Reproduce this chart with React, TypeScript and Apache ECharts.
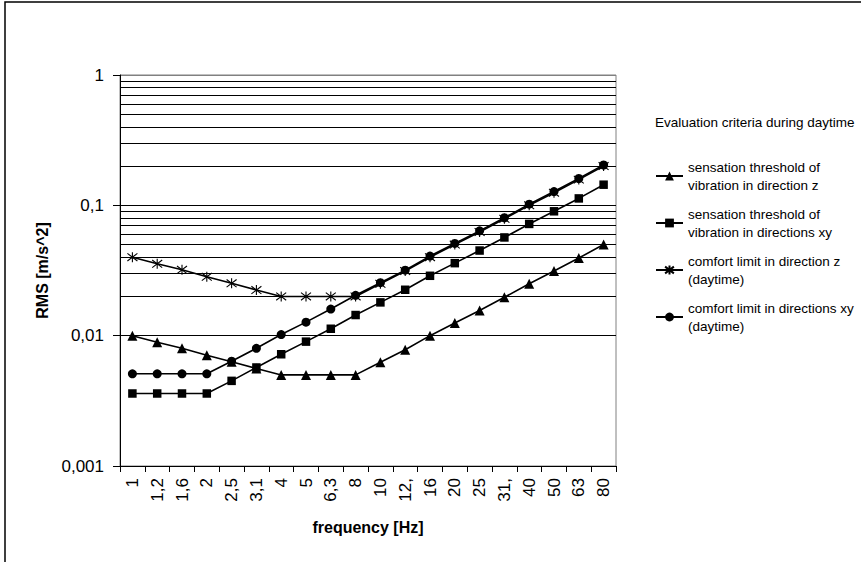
import React, { useEffect, useRef } from 'react';
import * as echarts from 'echarts';

const frequencies = ['1', '1,25', '1,6', '2', '2,5', '3,15', '4', '5', '6,3', '8', '10', '12,5', '16', '20', '25', '31,5', '40', '50', '63', '80'];
const sensationZ = [0.01, 0.0089, 0.008, 0.00707, 0.0063, 0.0056, 0.005, 0.005, 0.005, 0.005, 0.00625, 0.0078, 0.01, 0.0125, 0.0156, 0.0197, 0.025, 0.0313, 0.0394, 0.05];
const sensationXY = [0.0036, 0.0036, 0.0036, 0.0036, 0.0045, 0.0057, 0.0072, 0.009, 0.0113, 0.0144, 0.018, 0.0225, 0.0288, 0.036, 0.045, 0.0567, 0.072, 0.09, 0.113, 0.144];
const comfortZ = [0.04, 0.0356, 0.032, 0.0283, 0.0252, 0.0224, 0.02, 0.02, 0.02, 0.02, 0.025, 0.0313, 0.04, 0.05, 0.0625, 0.0788, 0.1, 0.125, 0.1575, 0.2];
const comfortXY = [0.0051, 0.0051, 0.0051, 0.0051, 0.00637, 0.008, 0.0102, 0.0127, 0.016, 0.0204, 0.0255, 0.0318, 0.0408, 0.051, 0.0637, 0.0803, 0.102, 0.1275, 0.1606, 0.204];
const minorGridValues = [
  0.002, 0.003, 0.004, 0.005, 0.006, 0.007, 0.008, 0.009,
  0.02, 0.03, 0.04, 0.05, 0.06, 0.07, 0.08, 0.09,
  0.2, 0.3, 0.4, 0.5, 0.6, 0.7, 0.8, 0.9,
];
const seriesNames = [
  'sensation threshold of vibration in direction z',
  'sensation threshold of vibration in directions xy',
  'comfort limit in direction z (daytime)',
  'comfort limit in directions xy (daytime)',
];
const legendLabels: Record<string, string> = {
  [seriesNames[0]]: 'sensation threshold of\nvibration in direction z',
  [seriesNames[1]]: 'sensation threshold of\nvibration in directions xy',
  [seriesNames[2]]: 'comfort limit in direction z\n(daytime)',
  [seriesNames[3]]: 'comfort limit in directions xy\n(daytime)',
};
const legendTitle = 'Evaluation criteria during daytime';
const xName = 'frequency [Hz]';
const yName = 'RMS [m/s^2]';

const FONT = "'Liberation Sans', Arial, sans-serif";
const ASTERISK = 'path://M5,0L5,10M1.2,1.2L8.8,8.8M1.2,8.8L8.8,1.2';

export default function App() {
  const ref = useRef<HTMLDivElement>(null);
  useEffect(() => {
    if (!ref.current) return;
    const chart = echarts.init(ref.current, null, { renderer: 'svg' });
    const lineStyle = { color: '#000', width: 1.6 };
    const mk = (name: string, data: number[], symbol: string, size: number, extra: any = {}) => ({
      name,
      type: 'line',
      data,
      symbol,
      symbolSize: size,
      showSymbol: true,
      lineStyle,
      itemStyle: { color: '#000', ...extra },
      emphasis: { disabled: true },
    });
    const s0: any = mk(seriesNames[0], sensationZ, 'triangle', 10);
    s0.markLine = {
      silent: true,
      symbol: ['none', 'none'],
      label: { show: false },
      lineStyle: { color: '#000', width: 1, type: 'solid' },
      z: 1,
      animation: false,
      data: minorGridValues.map((v) => ({ yAxis: v })),
    };
    const option: any = {
      animation: false,
      textStyle: { fontFamily: FONT },
      title: {
        text: legendTitle,
        left: 655,
        top: 115,
        padding: 0,
        textStyle: { fontSize: 13.5, fontWeight: 'normal', color: '#000', fontFamily: FONT },
      },
      graphic: [
        {
          type: 'rect',
          silent: true,
          shape: { x: 5, y: 2, width: 950, height: 700 },
          style: { fill: 'none', stroke: '#000', lineWidth: 1.5 },
        },
      ],
      legend: {
        orient: 'vertical',
        left: 655,
        top: 149,
        itemWidth: 27,
        itemHeight: 11,
        itemGap: -7,
        padding: 0,
        data: seriesNames,
        formatter: (n: string) => legendLabels[n],
        textStyle: {
          fontSize: 13.5,
          lineHeight: 18,
          padding: [18, 0, 0, 0],
          color: '#000',
          fontFamily: FONT,
        },
      },
      grid: {
        left: 120,
        top: 75,
        right: 245,
        bottom: 96,
        show: true,
        borderColor: '#808080',
        borderWidth: 1,
        backgroundColor: '#fff',
      },
      xAxis: {
        type: 'category',
        data: frequencies,
        boundaryGap: true,
        name: xName,
        nameLocation: 'middle',
        nameGap: 53,
        nameTextStyle: { fontSize: 16, fontWeight: 'bold', color: '#000', fontFamily: FONT },
        axisLine: { lineStyle: { color: '#000', width: 1 } },
        axisTick: { show: true, length: 6, lineStyle: { color: '#000' }, alignWithLabel: false },
        axisLabel: {
          rotate: 90,
          margin: 12,
          fontSize: 17,
          color: '#000',
          fontFamily: FONT,
          interval: 0,
          formatter: (v: string) => v.slice(0, 3),
        },
        splitLine: { show: false },
      },
      yAxis: {
        type: 'log',
        logBase: 10,
        min: 0.001,
        max: 1,
        name: yName,
        nameLocation: 'middle',
        nameGap: 66,
        nameTextStyle: { fontSize: 16, fontWeight: 'bold', color: '#000', fontFamily: FONT },
        axisLine: { show: true, lineStyle: { color: '#000', width: 1 } },
        axisTick: { show: true, length: 7, lineStyle: { color: '#000' } },
        axisLabel: {
          margin: 16,
          fontSize: 17,
          color: '#000',
          fontFamily: FONT,
          formatter: (v: number) => String(Number(v.toPrecision(1))).replace('.', ','),
        },
        splitLine: { show: true, lineStyle: { color: ['#000', '#000', '#000', '#808080'], width: 1 } },
        minorTick: { show: false },
        minorSplitLine: { show: false },
      },
      series: [
        s0,
        mk(seriesNames[1], sensationXY, 'rect', 8.5),
        mk(seriesNames[2], comfortZ, ASTERISK, 10, { borderColor: '#000', borderWidth: 1.1 }),
        mk(seriesNames[3], comfortXY, 'circle', 9),
      ],
    };
    chart.setOption(option);
    return () => chart.dispose();
  }, []);
  return (
    <div
      ref={ref}
      style={{ position: 'absolute', left: 0, top: 0, width: 861, height: 562, background: '#fff' }}
    />
  );
}
